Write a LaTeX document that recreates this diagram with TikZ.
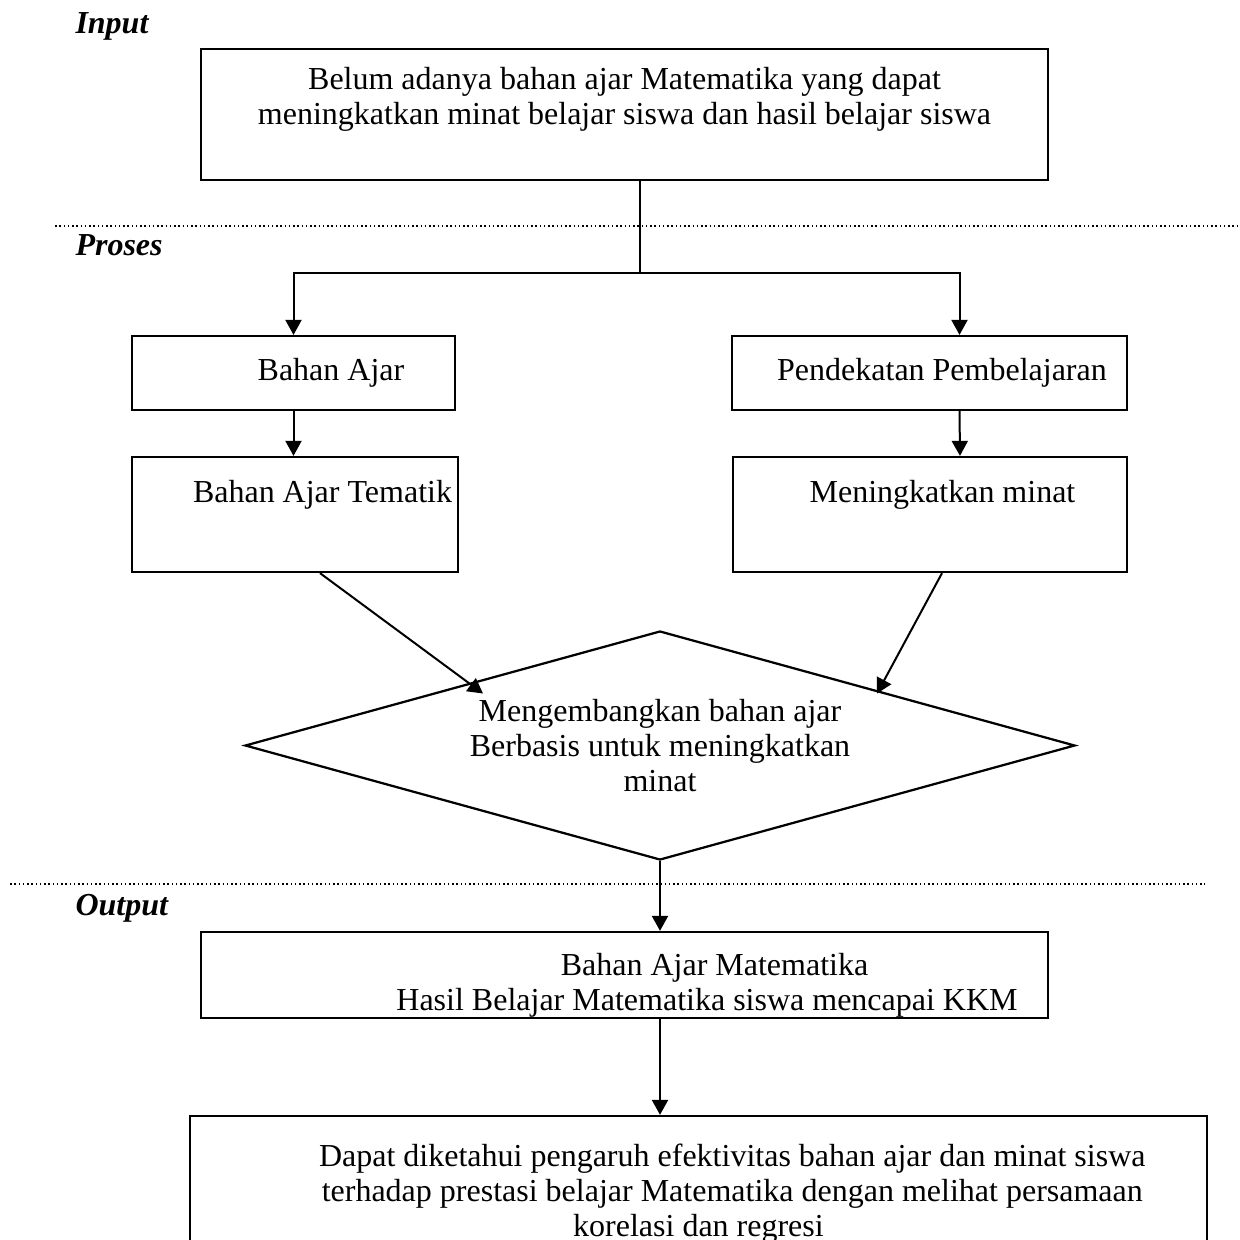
\documentclass[tikz,border=0pt]{standalone}
\usepackage{fontspec}
\setmainfont{Liberation Serif}
\usetikzlibrary{shapes.geometric,arrows.meta,calc}

\begin{document}
\begin{tikzpicture}[x=0.4pt,y=-0.4pt,
    kotak/.style={draw,line width=0.9pt,align=center,inner sep=0pt,font=\fontsize{12.8}{14}\selectfont},
    belah/.style={draw,diamond,shape aspect=3.62,line width=0.9pt,align=center,inner sep=0pt,minimum width=332pt,minimum height=91.6pt,font=\fontsize{12.8}{14}\selectfont},
    panah/.style={line width=0.8pt,-{Triangle[length=6pt,width=6.4pt]}},
    judul/.style={anchor=west,inner sep=0pt,font=\bfseries\itshape\fontsize{12.8}{14}\selectfont},
    titik/.style={line width=0.6pt,dash pattern=on 0.6pt off 1.1pt}]
  \useasboundingbox (0,0) rectangle (1240,1240);
  % bagian
  \node[judul] (lin) at (75,26) {Input};
  \node[judul] (lpro) at (75,245) {Proses};
  \node[judul] (lout) at (75,908) {Output};
  \draw[titik] (55,226) -- (1240,226);
  \draw[titik] (10,884) -- (1205,884);
  % kotak
  \node[kotak,minimum width=338.8pt,minimum height=52.4pt] (inbox) at (624.5,114.5)
    {\rule{0pt}{12pt}Belum adanya bahan ajar Matematika yang dapat\\meningkatkan minat belajar siswa dan hasil belajar siswa\\\strut};
  \node[kotak,minimum width=129.2pt,minimum height=29.6pt] (bahan) at (293.5,373)
    {\hspace*{30pt}Bahan Ajar};
  \node[kotak,minimum width=158pt,minimum height=29.6pt] (pendek) at (929.5,373)
    {\hspace*{10pt}Pendekatan Pembelajaran};
  \node[kotak,minimum width=130.4pt,minimum height=46pt] (tematik) at (295,514.5)
    {\hspace*{22pt}Bahan Ajar Tematik\\\strut};
  \node[kotak,minimum width=157.6pt,minimum height=46pt] (minat) at (930,514.5)
    {\hspace*{10pt}Meningkatkan minat\\\strut};
  \node[belah] (ide) at (660,745.5)
    {Mengembangkan bahan ajar\\Berbasis untuk meningkatkan\\minat};
  \node[kotak,minimum width=338.8pt,minimum height=34.4pt] (outbox) at (624.5,975)
    {\rule{0pt}{17pt}\hspace*{72pt}Bahan Ajar Matematika\\\hspace*{66pt}Hasil Belajar Matematika siswa mencapai KKM};
  \node[kotak,minimum width=406.8pt,minimum height=62.4pt] (akhir) at (698.5,1194)
    {\hspace*{27pt}Dapat diketahui pengaruh efektivitas bahan ajar dan minat siswa\\
     \hspace*{27pt}terhadap prestasi belajar Matematika dengan melihat persamaan\\
     korelasi dan regresi};
  % panah
  \coordinate (cabang) at (640,273);
  \draw[line width=0.8pt] (inbox.south -| cabang) -- (cabang);
  \draw[panah] (cabang) -| (bahan.north);
  \draw[panah] (cabang) -| ($(pendek.north)+(30,0)$);
  \draw[panah] (bahan.south) -- (bahan.south |- tematik.north);
  \draw[panah] ($(pendek.south)+(30,0)$) -- ($(minat.north)+(30,0)$);
  \draw[panah] ($(tematik.south)+(25,0)$) -- ($(ide.center)+(-177,-52)$);
  \draw[panah] ($(minat.south)+(12,0)$) -- ($(ide.center)+(217,-52)$);
  \draw[panah] (ide.south) -- (ide.south |- outbox.north);
  \draw[panah] (ide.south |- outbox.south) -- (ide.south |- akhir.north);
\end{tikzpicture}
\end{document}
